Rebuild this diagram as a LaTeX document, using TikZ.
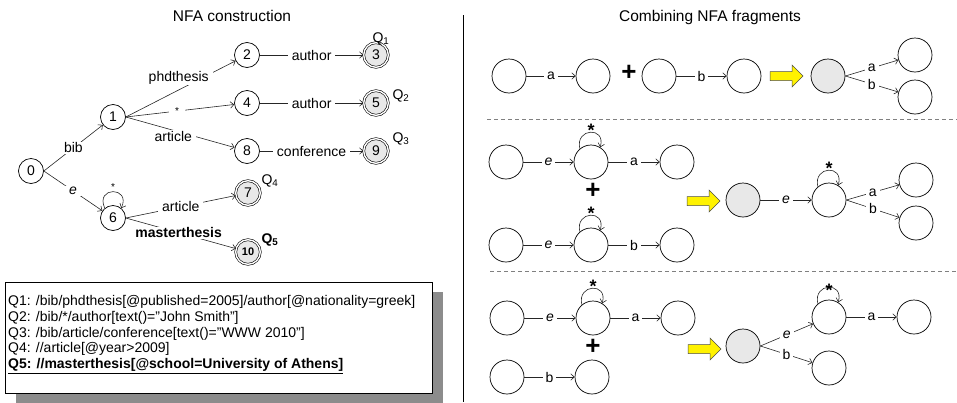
\documentclass[tikz,border=0pt]{standalone}
\usepackage{fontspec}
\setmainfont{Liberation Sans}
\usetikzlibrary{arrows.meta}
\begin{document}
\begin{tikzpicture}[x=1pt,y=-1pt,
  every node/.style={font=\fontsize{14}{16}\selectfont},
  st/.style={circle,draw,line width=0.7pt,minimum size=25pt,inner sep=0pt},
  fin/.style={circle,draw,line width=0.6pt,double,double distance=1.4pt,
    fill=gray!18,minimum size=24.6pt,inner sep=0pt},
  fr/.style={circle,draw,line width=0.7pt,minimum size=34pt,inner sep=0pt},
  frs/.style={fr,fill=gray!18},
  edge/.style={draw=black!85,line width=0.6pt,-{Straight Barb[length=3.5pt,width=6.5pt]}},
  lab/.style={fill=white,inner xsep=4pt,inner ysep=1pt},
  star/.style={font=\fontsize{10}{10}\selectfont,inner sep=0pt},
  bstar/.style={font=\fontsize{18}{18}\bfseries\selectfont,inner sep=0pt},
  qlab/.style={inner sep=0pt},
  plus/.style={font=\fontsize{26}{26}\bfseries\selectfont,inner sep=0pt,
    text height=0.5em,text depth=0.05em},
  title/.style={font=\fontsize{15.5}{18}\selectfont},
  yarrow/.pic={\draw[fill=yellow,draw=black!70,line width=0.5pt]
    (0,-4.5) -- (22,-4.5) -- (22,-11) -- (33,0) -- (22,11) -- (22,4.5) -- (0,4.5) -- cycle;}
]
\useasboundingbox (0,0) rectangle (957,402);

% ---------------- left half: NFA construction ----------------
\node[title] (t1) at (232,16) {NFA construction};

\node[st] (n0) at (31,171) {0};
\node[st] (n1) at (113,117) {1};
\node[st] (n2) at (247,55) {2};
\node[fin] (n3) at (376,55) {3};
\node[st] (n4) at (247,103) {4};
\node[fin] (n5) at (376,103) {5};
\node[st] (n8) at (247,151) {8};
\node[fin] (n9) at (376,151) {9};
\node[st] (n6) at (113,218) {6};
\node[fin] (n7) at (248,193) {7};
\node[fin,font=\fontsize{11}{12}\bfseries\selectfont] (n10) at (248,252) {10};

\draw[edge] (n0.east) -- node[lab] {bib} (n1);
\draw[edge] (n0.east) -- node[lab] {\textit{e}} (n6);
\draw[edge] (n1.east) -- node[lab,xshift=-2pt,yshift=11pt] {phdthesis} (n2);
\draw[edge] (n1.east) -- node[lab,inner xsep=6pt,font=\fontsize{10}{10}\selectfont,xshift=-3pt] {*} (n4);
\draw[edge] (n1.east) -- node[lab,xshift=-7pt,yshift=-4pt] {article} (n8);
\draw[edge] (n2) -- node[lab] {author} (n3);
\draw[edge] (n4) -- node[lab] {author} (n5);
\draw[edge] (n8) -- node[lab] {conference} (n9);
\draw[edge] (n6.east) -- node[lab] {article} (n7);
\draw[edge] (n6.east) -- node[lab,font=\fontsize{14}{16}\bfseries\selectfont,pos=0.48] {masterthesis} (n10);
\draw[edge] (n6.130) .. controls +(-10,-22) and +(10,-22) .. (n6.50);
\node[star] (s6) at (113,187) {*};

\node[qlab] (q1) at (381,39) {Q\textsubscript{1}};
\node[qlab] (q2) at (401,96) {Q\textsubscript{2}};
\node[qlab] (q3) at (401,139) {Q\textsubscript{3}};
\node[qlab] (q4) at (270,181) {Q\textsubscript{4}};
\node[qlab,font=\fontsize{14}{16}\bfseries\selectfont] (q5) at (270,240) {Q\textsubscript{5}};

% query list with its shadow
\fill[black!45] (16,292) rectangle (443,404);
\draw[fill=white,line width=0.6pt] (5,282) rectangle (432,393);
\node[anchor=west,align=left,inner sep=0pt,font=\fontsize{14}{15.75}\selectfont] (qs) at (8,334.5)
 {Q1: /bib/phdthesis[@published=2005]/author[@nationality=greek]\\
  Q2: /bib/*/author[text()="John Smith"]\\
  Q3: /bib/article/conference[text()="WWW 2010"]\\
  Q4: //article[@year>2009]\\
  \underline{\textbf{Q5: //masterthesis[@school=University of Athens]}}};

% divider
\draw[line width=0.7pt] (463,15) -- (463,402);

% ---------------- right half: combining fragments ----------------
\node[title] (t2) at (710,17) {Combining NFA fragments};

% row 1
\node[fr] (a1) at (509,76) {};
\node[fr] (a2) at (593,76) {};
\node[plus] (p1) at (629,78) {+};
\node[fr] (b1) at (659,76) {};
\node[fr] (b2) at (744,76) {};
\pic at (770,76) {yarrow};
\node[frs] (g1) at (828,76) {};
\node[fr] (r1a) at (915,55) {};
\node[fr] (r1b) at (915,97) {};
\draw[edge] (a1) -- node[lab,inner xsep=3pt] {a} (a2);
\draw[edge] (b1) -- node[lab,inner xsep=3pt] {b} (b2);
\draw[edge] (g1.east) -- node[lab,inner xsep=3pt] {a} (r1a);
\draw[edge] (g1.east) -- node[lab,inner xsep=3pt] {b} (r1b);

\draw[gray,line width=0.8pt,dash pattern=on 4pt off 3pt] (487,119) -- (957,119);

% row 2
\node[fr] (c1) at (506,162) {};
\node[fr] (c2) at (591,162) {};
\node[fr] (c3) at (677,162) {};
\node[plus] (p2) at (593,196) {+};
\node[fr] (d1) at (506,245) {};
\node[fr] (d2) at (591,245) {};
\node[fr] (d3) at (677,245) {};
\draw[edge] (c1) -- node[lab,inner xsep=3pt] {\textit{e}} (c2);
\draw[edge] (c2) -- node[lab,inner xsep=3pt] {a} (c3);
\draw[edge] (d1) -- node[lab,inner xsep=3pt] {\textit{e}} (d2);
\draw[edge] (d2) -- node[lab,inner xsep=3pt] {b} (d3);
\draw[edge] (c2.130) .. controls +(-5,-21) and +(6,-21) .. (c2.58);
\node[bstar] (sc2) at (591,130) {*};
\draw[edge] (d2.130) .. controls +(-5,-21) and +(6,-21) .. (d2.58);
\node[bstar] (sd2) at (591,213) {*};

\pic at (687,201) {yarrow};
\node[frs] (g2) at (743,200) {};
\node[fr] (e2) at (829,200) {};
\node[fr] (f2a) at (916,180) {};
\node[fr] (f2b) at (916,223) {};
\draw[edge] (g2) -- node[lab,inner xsep=3pt] {\textit{e}} (e2);
\draw[edge] (e2.east) -- node[lab,inner xsep=3pt] {a} (f2a);
\draw[edge] (e2.east) -- node[lab,inner xsep=3pt] {b} (f2b);
\draw[edge] (e2.130) .. controls +(-5,-21) and +(6,-21) .. (e2.58);
\node[bstar] (se2) at (829,168) {*};

\draw[gray,line width=0.8pt,dash pattern=on 4pt off 3pt] (490,271) -- (957,271);

% row 3
\node[fr] (h1) at (507,318) {};
\node[fr] (h2) at (593,318) {};
\node[fr] (h3) at (678,318) {};
\node[plus] (p3) at (593,352) {+};
\node[fr] (i1) at (507,377) {};
\node[fr] (i2) at (592,377) {};
\draw[edge] (h1) -- node[lab,inner xsep=3pt] {\textit{e}} (h2);
\draw[edge] (h2) -- node[lab,inner xsep=3pt] {a} (h3);
\draw[edge] (i1) -- node[lab,inner xsep=3pt] {b} (i2);
\draw[edge] (h2.130) .. controls +(-5,-21) and +(6,-21) .. (h2.58);
\node[bstar] (sh2) at (593,286) {*};

\pic at (688,349) {yarrow};
\node[frs] (g3) at (743,346) {};
\node[fr] (j1) at (829,317) {};
\node[fr] (j2) at (914,317) {};
\node[fr] (j3) at (829,368) {};
\draw[edge] (g3.east) -- node[lab,inner xsep=3pt] {\textit{e}} (j1);
\draw[edge] (g3.east) -- node[lab,inner xsep=3pt] {b} (j3);
\draw[edge] (j1) -- node[lab,inner xsep=3pt] {a} (j2);
\draw[edge] (j1.130) .. controls +(-5,-21) and +(6,-21) .. (j1.58);
\node[bstar] (sj1) at (829,290) {*};
\end{tikzpicture}
\end{document}
